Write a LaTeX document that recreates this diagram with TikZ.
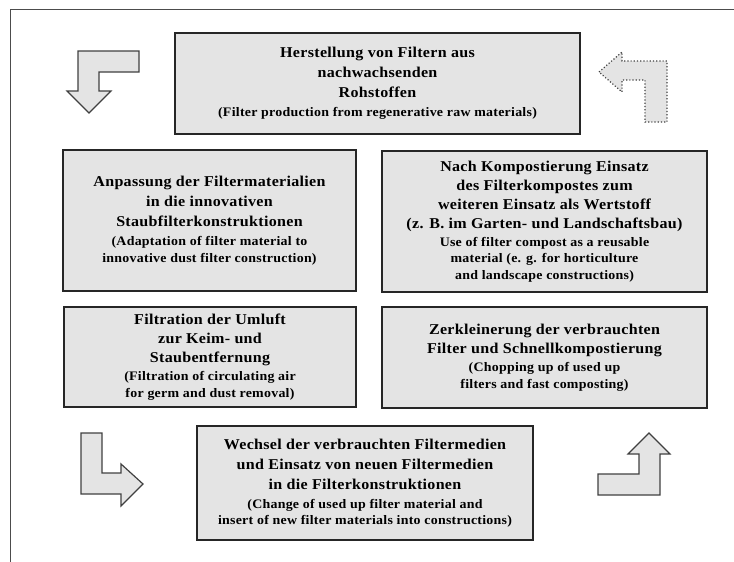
\documentclass[tikz,border=0pt]{standalone}
\usepackage{fontspec}
\setmainfont{Liberation Serif}[LetterSpace=2,FakeStretch=1.07]
\newcommand{\mainsize}{\fontsize{15}{20}\selectfont}
\newcommand{\notesize}{\fontsize{13}{16.5}\selectfont}
\definecolor{boxgray}{HTML}{E4E4E4}
\begin{document}
\begin{tikzpicture}[x=1pt,y=-1pt,line join=miter,
  box/.style={draw=black!85,line width=1.6pt,fill=boxgray,inner sep=0pt,align=center,font=\bfseries\mainsize},
  blockarrow/.style={draw=black!75,line width=1.2pt,fill=boxgray}]
\useasboundingbox (0,0) rectangle (734,562);
\draw[black!70,line width=1pt] (10,562) -- (10,9) -- (734,9);
% boxes
\node[box,minimum width=405,minimum height=101] (prod) at (377.5,83.5)
  {Herstellung von Filtern aus\\ nachwachsenden\\ Rohstoffen\\[-1pt]
   \notesize(Filter production from regenerative raw materials)};
\node[box,minimum width=293,minimum height=141] (adapt) at (209.5,220.5)
  {Anpassung der Filtermaterialien\\ in die innovativen\\ Staubfilterkonstruktionen\\[-1pt]
   \notesize(Adaptation of filter material to\\[-3.5pt] \notesize innovative dust filter construction)};
\node[box,minimum width=325,minimum height=141] (compost) at (544.5,221.5)
  {Nach Kompostierung Einsatz\\[-1pt] des Filterkompostes zum\\[-1pt] weiteren Einsatz als Wertstoff\\[-1pt]
   (z. B. im Garten- und Landschaftsbau)\\[-2pt]
   \notesize Use of filter compost as a reusable\\[-3.5pt] \notesize material (e. g. for horticulture\\[-3.5pt] \notesize and landscape constructions)};
\node[box,minimum width=292,minimum height=100] (filtr) at (210,357)
  {Filtration der Umluft\\[-1pt] zur Keim- und\\[-1pt] Staubentfernung\\[-2pt]
   \notesize(Filtration of circulating air\\[-3.5pt] \notesize for germ and dust removal)};
\node[box,minimum width=325,minimum height=101] (chop) at (544.5,357.5)
  {Zerkleinerung der verbrauchten\\[-1pt] Filter und Schnellkompostierung\\[-2pt]
   \notesize(Chopping up of used up\\[-3.5pt] \notesize filters and fast composting)};
\node[box,minimum width=336,minimum height=114] (change) at (365,483)
  {Wechsel der verbrauchten Filtermedien\\ und Einsatz von neuen Filtermedien\\ in die Filterkonstruktionen\\[-1pt]
   \notesize(Change of used up filter material and\\[-3.5pt] \notesize insert of new filter materials into constructions)};
% arrows
\draw[blockarrow] (139,51) -- (78,51) -- (78,91) -- (67,91) -- (89,113) -- (111,91) -- (99,91) -- (99,72) -- (139,72) -- cycle;
\draw[blockarrow,dotted] (599,72) -- (622,52) -- (622,61) -- (667,61) -- (667,122) -- (645,122) -- (645,80) -- (622,80) -- (622,92) -- cycle;
\draw[blockarrow] (81,433) -- (102,433) -- (102,473) -- (121,473) -- (121,464) -- (143,484) -- (121,506) -- (121,494) -- (81,494) -- cycle;
\draw[blockarrow] (598,474) -- (639,474) -- (639,454) -- (628,454) -- (649,433) -- (670,454) -- (660,454) -- (660,495) -- (598,495) -- cycle;
\end{tikzpicture}
\end{document}
